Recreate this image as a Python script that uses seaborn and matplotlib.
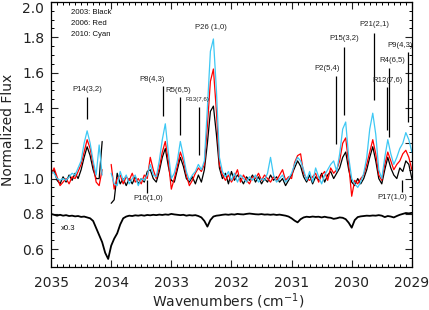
import numpy as np
import pandas as pd
import matplotlib
matplotlib.use("Agg")
import matplotlib.pyplot as plt
import seaborn as sns
from matplotlib.ticker import MultipleLocator

# ---------------- data ----------------
wavenumber = np.round(np.arange(2035.0, 2028.99, -0.05), 2)  # 121 samples

flux_2003 = [1.03, 1.05, 0.99, 0.97, 1.01, 0.98, 1.02, 0.99, 1.03, 1.00,
             1.05, 1.12, 1.18, 1.13, 1.05, 1.00, 1.00, 1.21, np.nan, np.nan,
             0.86, 0.88, 1.03, 0.97, 1.00, 0.96, 1.00, 0.97, 1.01, 0.97,
             1.00, 0.98, 1.04, 1.05, 1.00, 0.98, 1.04, 1.12, 1.17, 1.07,
             0.99, 0.98, 1.05, 1.12, 1.07, 1.00, 0.98, 1.01, 0.97, 1.02,
             0.98, 1.05, 1.20, 1.38, 1.41, 1.25, 1.06, 1.00, 1.03, 0.97,
             1.04, 0.99, 1.02, 1.00, 0.97, 1.01, 0.99, 1.02, 0.98, 1.01,
             0.97, 1.00, 0.98, 1.02, 0.99, 1.01, 0.98, 1.00, 0.96, 0.99,
             1.02, 1.06, 1.10, 1.07, 1.01, 0.98, 1.02, 0.97, 1.01, 0.99,
             1.03, 0.98, 1.02, 1.04, 1.00, 1.03, 1.06, 1.12, 1.15, 1.05,
             0.98, 0.96, 1.00, 0.97, 1.00, 1.05, 1.12, 1.18, 1.10, 1.00,
             0.97, 1.05, 1.12, 1.06, 1.02, 1.00, 1.06, 1.04, 1.10, 1.08,
             1.00]

flux_2006 = [1.02, 1.06, 1.01, 0.96, 0.98, 1.00, 0.97, 1.01, 1.00, 1.04,
             1.08, 1.15, 1.22, 1.17, 1.08, 0.98, 0.96, 1.05, np.nan, np.nan,
             1.08, 0.94, 1.00, 1.02, 0.97, 1.01, 0.99, 1.03, 0.98, 1.00,
             0.97, 1.02, 1.00, 1.12, 1.05, 1.00, 1.06, 1.15, 1.21, 1.10,
             0.94, 1.00, 1.07, 1.15, 1.10, 1.02, 0.96, 0.99, 1.03, 1.06,
             1.04, 1.08, 1.30, 1.55, 1.62, 1.38, 1.08, 1.02, 0.99, 1.02,
             0.98, 1.01, 1.05, 0.98, 1.02, 0.99, 0.97, 1.01, 1.00, 1.03,
             0.99, 1.02, 1.00, 0.98, 1.01, 0.99, 1.02, 1.05, 0.99, 1.01,
             1.00, 1.09, 1.13, 1.14, 1.03, 1.00, 0.99, 1.01, 1.03, 0.98,
             1.02, 1.04, 0.99, 1.06, 1.03, 1.05, 1.10, 1.20, 1.23, 1.08,
             0.90, 0.99, 0.97, 1.00, 1.02, 1.08, 1.15, 1.22, 1.14, 1.02,
             0.99, 1.08, 1.15, 1.10, 1.05, 1.08, 1.10, 1.14, 1.16, 1.12,
             1.05]

flux_2010 = [1.04, 1.03, 1.00, 0.99, 1.00, 0.99, 1.01, 1.03, 1.02, 1.06,
             1.10, 1.20, 1.27, 1.20, 1.10, 1.02, 1.19, 1.02, np.nan, np.nan,
             1.03, 0.97, 0.96, 1.04, 0.99, 1.02, 0.97, 1.00, 1.02, 0.96,
             1.00, 0.99, 1.02, 1.08, 1.02, 1.01, 1.10, 1.22, 1.31, 1.15,
             1.00, 1.03, 1.10, 1.21, 1.13, 1.04, 0.99, 1.02, 1.04, 1.08,
             1.05, 1.10, 1.40, 1.72, 1.79, 1.50, 1.12, 1.04, 1.01, 1.04,
             0.99, 1.03, 0.98, 1.02, 1.00, 0.98, 1.01, 0.99, 1.02, 0.98,
             1.00, 0.99, 1.03, 1.12, 1.02, 0.98, 1.00, 1.02, 0.98, 1.00,
             1.03, 1.08, 1.12, 1.10, 1.05, 0.99, 1.04, 0.98, 1.06, 1.01,
             0.97, 1.02, 1.05, 1.08, 1.10, 1.04, 1.14, 1.28, 1.32, 1.12,
             1.00, 0.97, 0.95, 0.98, 1.03, 1.12, 1.28, 1.37, 1.25, 1.05,
             1.00, 1.12, 1.22, 1.14, 1.08, 1.12, 1.17, 1.20, 1.26, 1.22,
             1.15]

telluric_x03 = [0.800, 0.795, 0.790, 0.795, 0.790, 0.793, 0.788, 0.790, 0.786, 0.788,
                0.783, 0.785, 0.780, 0.775, 0.760, 0.720, 0.680, 0.640, 0.580, 0.545,
                0.620, 0.660, 0.690, 0.740, 0.775, 0.785, 0.790, 0.788, 0.792, 0.790,
                0.793, 0.790, 0.794, 0.792, 0.795, 0.793, 0.796, 0.794, 0.797, 0.795,
                0.800, 0.797, 0.795, 0.793, 0.795, 0.790, 0.793, 0.791, 0.793, 0.788,
                0.780, 0.760, 0.728, 0.765, 0.785, 0.790, 0.792, 0.795, 0.797, 0.795,
                0.798, 0.796, 0.800, 0.798, 0.797, 0.800, 0.802, 0.800, 0.798, 0.797,
                0.799, 0.796, 0.797, 0.795, 0.797, 0.794, 0.796, 0.793, 0.790, 0.785,
                0.775, 0.762, 0.752, 0.770, 0.780, 0.784, 0.782, 0.785, 0.783, 0.784,
                0.780, 0.784, 0.780, 0.778, 0.772, 0.775, 0.780, 0.778, 0.770, 0.750,
                0.722, 0.765, 0.782, 0.786, 0.788, 0.790, 0.789, 0.791, 0.790, 0.793,
                0.790, 0.782, 0.788, 0.785, 0.780, 0.788, 0.795, 0.800, 0.805, 0.803,
                0.806]

line_labels = ["P14(3,2)", "P8(4,3)", "R5(6,5)", "R13(7,6)", "P26 (1,0)",
               "P2(5,4)", "P15(3,2)", "P21(2,1)", "R12(7,6)", "R4(6,5)", "P9(4,3)",
               "P16(1,0)", "P17(1,0)"]
line_wn = [2034.40, 2033.14, 2032.86, 2032.54, np.nan,
           2030.26, 2030.13, 2029.63, 2029.42, 2029.38, 2029.07,
           2033.40, 2029.17]

year_names = ["2003", "2006", "2010"]
year_colors = ["black", "#ff0000", "#3ec8f4"]

# ---------------- layout (positions/styles) ----------------
line_top = [1.462, 1.524, 1.462, 1.405, np.nan, 1.581, 1.745, 1.824, 1.519, 1.626, 1.717, 0.992, 0.992]
line_bot = [1.338, 1.355, 1.247, 1.134, np.nan, 1.196, 1.360, 1.445, 1.275, 1.236, 1.321, 0.919, 0.924]
text_x = [2034.40, 2033.32, 2032.89, 2032.57, 2032.34, 2030.41, 2030.13, 2029.63,
          2029.40, 2029.32, 2029.20, 2033.39, 2029.32]
text_y = [1.502, 1.558, 1.496, 1.445, 1.853, 1.621, 1.790, 1.870, 1.553, 1.666, 1.751, 0.885, 0.890]
text_size = [5.6, 5.6, 5.6, 4.4, 5.6, 5.6, 5.6, 5.6, 5.6, 5.6, 5.6, 5.6, 5.6]

# ---------------- build table ----------------
frames = []
for name, vals in zip(year_names, [flux_2003, flux_2006, flux_2010]):
    v = np.array(vals, dtype=float)
    seg = np.cumsum(np.isnan(v))
    df = pd.DataFrame({"wn": wavenumber, "flux": v, "year": name, "seg": seg})
    frames.append(df.dropna())
spec = pd.concat(frames, ignore_index=True)
tell = pd.DataFrame({"wn": wavenumber, "flux": telluric_x03})

sns.set_style("ticks")
plt.rcParams["font.family"] = ["DejaVu Sans"]

fig = plt.figure(figsize=(4.29, 3.10), dpi=100)
ax = fig.add_axes([0.119, 0.139, 0.841, 0.855])

for name, col in zip(year_names, year_colors):
    sub = spec[spec["year"] == name]
    sns.lineplot(data=sub, x="wn", y="flux", units="seg", estimator=None,
                 sort=False, color=col, lw=0.9, ax=ax, legend=False)

sns.lineplot(data=tell, x="wn", y="flux", estimator=None, sort=False,
             color="black", lw=1.3, ax=ax, legend=False)

# annotations
for lab, wx, t, b, tx, ty, fs in zip(line_labels, line_wn, line_top, line_bot,
                                    text_x, text_y, text_size):
    if not np.isnan(wx):
        ax.vlines(wx, b, t, color="black", lw=0.9)
    ax.text(tx, ty, lab, ha="center", va="center", fontsize=fs,
            family="Liberation Sans", color="#222222", clip_on=False)

for i, s in enumerate(["2003: Black", "2006: Red", "2010: Cyan"]):
    ax.text(2034.67, 1.942 - i * 0.062, s, fontsize=5.6, family="Liberation Sans",
            ha="left", va="center", color="#111111")
ax.text(2034.83, 0.720, "x0.3", fontsize=5.6, family="Liberation Sans",
        ha="left", va="center", color="#111111")

ax.set_xlim(2035, 2029)
ax.set_ylim(0.5, 2.0)
ax.xaxis.set_major_locator(MultipleLocator(1))
ax.xaxis.set_minor_locator(MultipleLocator(0.1))
ax.yaxis.set_major_locator(MultipleLocator(0.2))
ax.yaxis.set_minor_locator(MultipleLocator(0.05))
ax.set_yticks([0.6, 0.8, 1.0, 1.2, 1.4, 1.6, 1.8, 2.0])
ax.set_xticks([2035, 2034, 2033, 2032, 2031, 2030, 2029])
ax.set_xticklabels(["2035", "2034", "2033", "2032", "2031", "2030", "2029"])
ax.set_yticklabels(["0.6", "0.8", "1.0", "1.2", "1.4", "1.6", "1.8", "2.0"])
ax.tick_params(which="both", direction="in", top=True, right=True, color="black")
ax.tick_params(which="major", length=5, width=0.8, labelsize=10, colors="#222222")
ax.tick_params(which="minor", length=2.5, width=0.7)
ax.tick_params(axis="x", which="major", pad=6.5)
ax.tick_params(axis="y", which="major", pad=5)
ax.get_yticklabels()[-1].set_verticalalignment("top")
for sp in ax.spines.values():
    sp.set_linewidth(0.9)
    sp.set_color("black")

ax.set_xlabel("Wavenumbers (cm$^{-1}$)", fontsize=10, color="#222222")
ax.set_ylabel("Normalized Flux", fontsize=10, color="#222222")
ax.xaxis.set_label_coords(0.49, -0.093)
ax.yaxis.set_label_coords(-0.10, 0.517)

fig.savefig("out.png", dpi=100)
